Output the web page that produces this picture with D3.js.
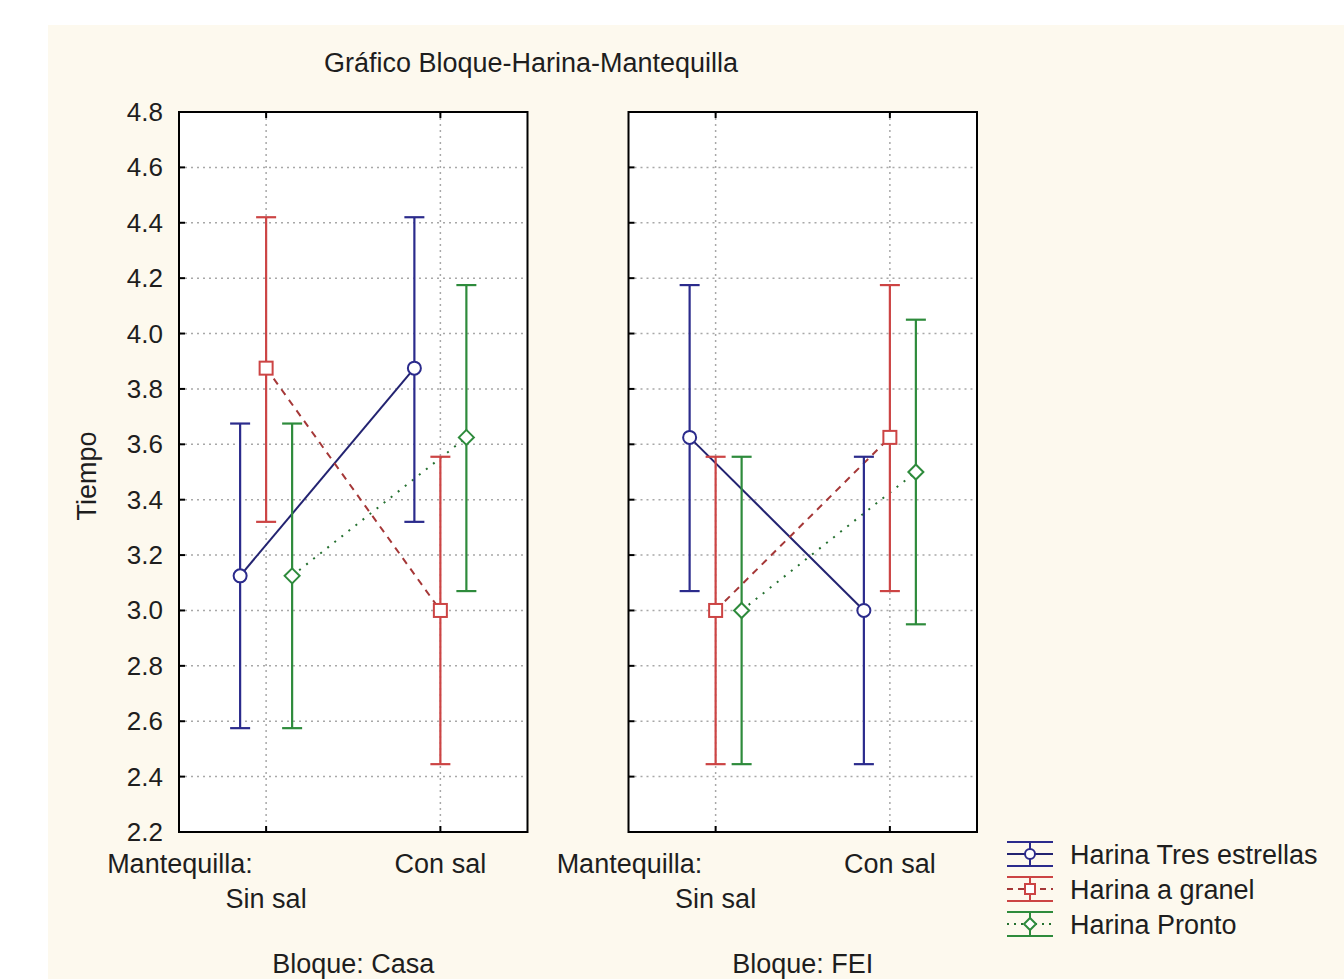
<!DOCTYPE html>
<html>
<head>
<meta charset="utf-8">
<script src="https://cdn.jsdelivr.net/npm/d3@7"></script>
<style>
  body { margin: 0; background: #ffffff; }
  svg { display: block; font-family: 'Liberation Sans', Arial, sans-serif; }
</style>
</head>
<body>
<div id="chart"></div>
<script>
// DATA
const bloques = ['Casa', 'FEI'];
const mantequilla = ['Sin sal', 'Con sal'];
const harinas = ['Harina Tres estrellas', 'Harina a granel', 'Harina Pronto'];
const yTicks = [2.2, 2.4, 2.6, 2.8, 3.0, 3.2, 3.4, 3.6, 3.8, 4.0, 4.2, 4.4, 4.6, 4.8];

// order: Casa/Sin sal, Casa/Con sal, FEI/Sin sal, FEI/Con sal
const tresMedia = [3.125, 3.875, 3.625, 3.0];
const tresBajo = [2.575, 3.32, 3.07, 2.445];
const tresAlto = [3.675, 4.42, 4.175, 3.555];

const granelMedia = [3.875, 3.0, 3.0, 3.625];
const granelBajo = [3.32, 2.445, 2.445, 3.07];
const granelAlto = [4.42, 3.555, 3.555, 4.175];

const prontoMedia = [3.125, 3.625, 3.0, 3.5];
const prontoBajo = [2.575, 3.07, 2.445, 2.95];
const prontoAlto = [3.675, 4.175, 3.555, 4.05];

// colors
const blueColor = '#2b2b8c';
const redColor = '#cc4444';
const greenColor = '#2e8b3c';
const creamColor = '#fdf9ee';
const textColor = '#1e1e1e';

const seriesProps = [
    { name: harinas[0], color: blueColor, dash: null, marker: 'circle', media: tresMedia, bajo: tresBajo, alto: tresAlto },
    { name: harinas[1], color: redColor, dash: '7,6', marker: 'square', media: granelMedia, bajo: granelBajo, alto: granelAlto },
    { name: harinas[2], color: greenColor, dash: '2,7', marker: 'diamond', media: prontoMedia, bajo: prontoBajo, alto: prontoAlto }
];

const W = 1344, H = 979;
const plotTop = 112, plotBottom = 832;
const fontSize = 27;

const svg = d3.select('#chart')
    .append('svg')
    .attr('width', W)
    .attr('height', H);

svg.append('rect')
    .attr('x', 48).attr('y', 25)
    .attr('width', W - 48).attr('height', H - 25)
    .attr('fill', creamColor);

const y = d3.scaleLinear().domain([2.2, 4.8]).range([plotBottom, plotTop]);

const xPanel = d3.scaleBand()
    .domain(bloques)
    .range([179, 977])
    .paddingInner(0.2247)
    .paddingOuter(0);

const xCat = d3.scalePoint()
    .domain(mantequilla)
    .range([0, xPanel.bandwidth()])
    .padding(0.5);

const xOff = d3.scalePoint()
    .domain(harinas)
    .range([-26, 26]);

function drawMarker(g, type, cx, cy, color, size) {
    if (type === 'circle') {
        g.append('circle')
            .attr('cx', cx).attr('cy', cy).attr('r', size)
            .attr('fill', '#ffffff').attr('stroke', color).attr('stroke-width', 2);
    } else if (type === 'square') {
        g.append('rect')
            .attr('x', cx - size).attr('y', cy - size)
            .attr('width', size * 2).attr('height', size * 2)
            .attr('fill', '#ffffff').attr('stroke', color).attr('stroke-width', 2);
    } else {
        g.append('path')
            .attr('d', `M${cx},${cy - size - 1}L${cx + size + 1},${cy}L${cx},${cy + size + 1}L${cx - size - 1},${cy}Z`)
            .attr('fill', '#ffffff').attr('stroke', color).attr('stroke-width', 2);
    }
}

bloques.forEach((bloque, bi) => {
    const x0 = xPanel(bloque);
    const pw = xPanel.bandwidth();
    const g = svg.append('g').attr('transform', `translate(${x0},0)`);

    g.append('rect')
        .attr('x', 0).attr('y', plotTop)
        .attr('width', pw).attr('height', plotBottom - plotTop)
        .attr('fill', '#ffffff');

    // grid
    g.selectAll('.hgrid')
        .data(yTicks.slice(1, -1))
        .enter()
        .append('line')
        .attr('x1', 0).attr('x2', pw)
        .attr('y1', d => y(d)).attr('y2', d => y(d))
        .attr('stroke', '#a8a8a8')
        .attr('stroke-width', 1.5)
        .attr('stroke-dasharray', '2,4');

    g.selectAll('.vgrid')
        .data(mantequilla)
        .enter()
        .append('line')
        .attr('x1', d => xCat(d)).attr('x2', d => xCat(d))
        .attr('y1', plotTop).attr('y2', plotBottom)
        .attr('stroke', '#a8a8a8')
        .attr('stroke-width', 1.5)
        .attr('stroke-dasharray', '2,4');

    // left axis ticks (inside)
    g.selectAll('.ytick')
        .data(yTicks)
        .enter()
        .append('line')
        .attr('x1', 0).attr('x2', 6)
        .attr('y1', d => y(d)).attr('y2', d => y(d))
        .attr('stroke', '#000').attr('stroke-width', 2);

    mantequilla.forEach(m => {
        g.append('line')
            .attr('x1', xCat(m)).attr('x2', xCat(m))
            .attr('y1', plotTop).attr('y2', plotTop + 6)
            .attr('stroke', '#000').attr('stroke-width', 2);
        g.append('line')
            .attr('x1', xCat(m)).attr('x2', xCat(m))
            .attr('y1', plotBottom).attr('y2', plotBottom - 6)
            .attr('stroke', '#000').attr('stroke-width', 2);
    });

    // connecting lines
    seriesProps.forEach(s => {
        const pts = mantequilla.map((m, mi) => [xCat(m) + xOff(s.name), y(s.media[bi * 2 + mi])]);
        g.append('path')
            .attr('d', d3.line()(pts))
            .attr('fill', 'none')
            .attr('stroke', d3.color(s.color).darker(0.6))
            .attr('stroke-width', 2)
            .attr('stroke-dasharray', s.dash);
    });

    // error bars + markers
    seriesProps.forEach(s => {
        mantequilla.forEach((m, mi) => {
            const idx = bi * 2 + mi;
            const cx = xCat(m) + xOff(s.name);
            g.append('line')
                .attr('x1', cx).attr('x2', cx)
                .attr('y1', y(s.bajo[idx])).attr('y2', y(s.alto[idx]))
                .attr('stroke', s.color).attr('stroke-width', 2.2);
            [s.bajo[idx], s.alto[idx]].forEach(v => {
                g.append('line')
                    .attr('x1', cx - 10).attr('x2', cx + 10)
                    .attr('y1', y(v)).attr('y2', y(v))
                    .attr('stroke', s.color).attr('stroke-width', 2.2);
            });
            drawMarker(g, s.marker, cx, y(s.media[idx]), s.color, 6.5);
        });
    });

    // frame
    g.append('rect')
        .attr('x', 0).attr('y', plotTop)
        .attr('width', pw).attr('height', plotBottom - plotTop)
        .attr('fill', 'none')
        .attr('stroke', '#000').attr('stroke-width', 2);

    // x labels
    g.append('text')
        .attr('x', xCat('Sin sal') - 159)
        .attr('y', 873)
        .attr('font-size', fontSize)
        .attr('fill', textColor)
        .text('Mantequilla:');
    g.append('text')
        .attr('x', xCat('Sin sal'))
        .attr('y', 908)
        .attr('text-anchor', 'middle')
        .attr('font-size', fontSize)
        .attr('fill', textColor)
        .text(mantequilla[0]);
    g.append('text')
        .attr('x', xCat('Con sal'))
        .attr('y', 873)
        .attr('text-anchor', 'middle')
        .attr('font-size', fontSize)
        .attr('fill', textColor)
        .text(mantequilla[1]);
    g.append('text')
        .attr('x', pw / 2)
        .attr('y', 973)
        .attr('text-anchor', 'middle')
        .attr('font-size', fontSize)
        .attr('fill', textColor)
        .text('Bloque: ' + bloque);
});

// y tick labels
svg.selectAll('.ylabel')
    .data(yTicks)
    .enter()
    .append('text')
    .attr('x', 163)
    .attr('y', d => y(d) + 9)
    .attr('text-anchor', 'end')
    .attr('font-size', 26)
    .attr('fill', textColor)
    .text(d => d.toFixed(1));

svg.append('text')
    .attr('transform', 'translate(96,476) rotate(-90)')
    .attr('text-anchor', 'middle')
    .attr('font-size', fontSize)
    .attr('fill', textColor)
    .text('Tiempo');

svg.append('text')
    .attr('x', 531)
    .attr('y', 72)
    .attr('text-anchor', 'middle')
    .attr('font-size', fontSize)
    .attr('fill', textColor)
    .text('Gráfico Bloque-Harina-Mantequilla');

// legend
const legendY = d3.scalePoint().domain(harinas).range([854, 924]);
seriesProps.forEach(s => {
    const cy = legendY(s.name);
    const lg = svg.append('g');
    lg.append('line')
        .attr('x1', 1007).attr('x2', 1053)
        .attr('y1', cy).attr('y2', cy)
        .attr('stroke', d3.color(s.color).darker(0.6)).attr('stroke-width', 2)
        .attr('stroke-dasharray', s.dash ? (s.dash === '2,7' ? '2,5' : '6,5') : null);
    lg.append('line')
        .attr('x1', 1030).attr('x2', 1030)
        .attr('y1', cy - 12).attr('y2', cy + 12)
        .attr('stroke', s.color).attr('stroke-width', 2);
    [cy - 12, cy + 12].forEach(v => {
        lg.append('line')
            .attr('x1', 1007).attr('x2', 1053)
            .attr('y1', v).attr('y2', v)
            .attr('stroke', s.color).attr('stroke-width', 2);
    });
    drawMarker(lg, s.marker, 1030, cy, s.color, 5);
    lg.append('text')
        .attr('x', 1070)
        .attr('y', cy + 10)
        .attr('font-size', fontSize)
        .attr('fill', textColor)
        .text(s.name);
});
</script>
</body>
</html>
